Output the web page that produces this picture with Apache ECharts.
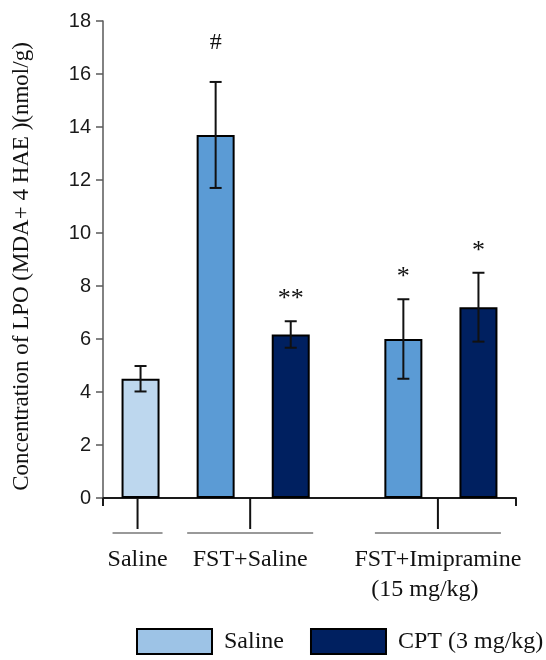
<!DOCTYPE html>
<html><head><meta charset="utf-8">
<script src="https://cdn.jsdelivr.net/npm/echarts@6/dist/echarts.min.js"></script>
<style>html,body{margin:0;padding:0;background:#fff}#c{width:546px;height:660px}</style>
</head><body><div id="c"></div>
<script>
// ---- data ----
const groups = ['Saline', 'FST+Saline', 'FST+Imipramine\n(15 mg/kg)'];
const seriesNames = ['Saline', 'CPT (3 mg/kg)'];
const salineMean = [4.5, 13.7, 6.0];
const salineErr = [0.48, 2.0, 1.5];
const salineSig = ['', '#', '*'];
const cptMean = [null, 6.17, 7.2];
const cptErr = [null, 0.5, 1.3];
const cptSig = ['', '**', '*'];
const yTicks = [0, 2, 4, 6, 8, 10, 12, 14, 16, 18];

// ---- layout (slot positions on a hidden value axis) ----
const groupStart = [0, 2, 7];
const salineSlot = 1, cptSlot = 3;
const serif = 'Liberation Serif';

const salineData = [], cptData = [], errData = [], groupData = [];
groups.forEach((g, i) => {
  const xs = groupStart[i] + salineSlot;
  salineData.push({ value: [xs, salineMean[i]], itemStyle: i === 0 ? { color: '#bdd7ee' } : undefined });
  errData.push([xs, salineMean[i], salineErr[i], salineSig[i]]);
  const present = [xs];
  if (cptMean[i] != null) {
    const xc = groupStart[i] + cptSlot;
    cptData.push([xc, cptMean[i]]);
    errData.push([xc, cptMean[i], cptErr[i], cptSig[i]]);
    present.push(xc);
  }
  const center = present.reduce((a, b) => a + b, 0) / present.length;
  groupData.push([center, 0, present.length, i]);
});

const chart = echarts.init(document.getElementById('c'), null, { renderer: 'canvas' });
chart.setOption({
  animation: false,
  backgroundColor: '#fff',
  grid: { left: 103, right: 30, top: 21, bottom: 162, containLabel: false },
  xAxis: {
    type: 'value', min: 0, max: 11, interval: 11,
    axisLine: { show: true, lineStyle: { color: '#1a1a1a', width: 2 } },
    axisTick: { show: true, length: 8, lineStyle: { color: '#1a1a1a', width: 2 } },
    axisLabel: { show: false }, splitLine: { show: false }
  },
  yAxis: {
    type: 'value', min: yTicks[0], max: yTicks[yTicks.length - 1], interval: yTicks[1] - yTicks[0],
    axisLine: { show: true, lineStyle: { color: '#595959', width: 1.5 } },
    axisTick: { show: true, length: 7, lineStyle: { color: '#595959', width: 1.5 } },
    axisLabel: { fontFamily: 'Liberation Sans', fontSize: 20, color: '#1a1a1a', margin: 12 },
    splitLine: { show: false },
    name: 'Concentration of LPO (MDA+ 4 HAE )(nmol/g)',
    nameLocation: 'middle', nameGap: 70,
    nameTextStyle: { fontFamily: serif, fontSize: 23, color: '#111', padding: [0, 14, 0, 0] }
  },
  legend: {
    left: 136, top: 628, padding: 0, itemWidth: 75, itemHeight: 25, itemGap: 26, icon: 'rect',
    selectedMode: false,
    data: [
      { name: seriesNames[0], itemStyle: { color: '#9dc3e6', borderColor: '#000', borderWidth: 2 } },
      { name: seriesNames[1], itemStyle: { color: '#002060', borderColor: '#000', borderWidth: 2 } }
    ],
    textStyle: { fontFamily: serif, fontSize: 24, color: '#111', padding: [6, 0, 0, 7] }
  },
  series: [
    {
      name: seriesNames[0], type: 'bar', barWidth: 38, barGap: '-100%',
      itemStyle: { color: '#5b9bd5', borderColor: '#000', borderWidth: 2 },
      data: salineData
    },
    {
      name: seriesNames[1], type: 'bar', barWidth: 38, barGap: '-100%',
      itemStyle: { color: '#002060', borderColor: '#000', borderWidth: 2 },
      data: cptData
    },
    {
      type: 'custom', name: 'err', z: 10, clip: false,
      data: errData,
      renderItem: function (params, api) {
        const x = api.value(0), m = api.value(1), e = api.value(2);
        const sig = errData[params.dataIndex][3];
        const top = api.coord([x, m + e]);
        const bot = api.coord([x, m - e]);
        const w = 6;
        const st = { stroke: '#111', lineWidth: 2 };
        const kids = [
          { type: 'line', shape: { x1: top[0], y1: top[1], x2: bot[0], y2: bot[1] }, style: st },
          { type: 'line', shape: { x1: top[0] - w, y1: top[1], x2: top[0] + w, y2: top[1] }, style: st },
          { type: 'line', shape: { x1: bot[0] - w, y1: bot[1], x2: bot[0] + w, y2: bot[1] }, style: st }
        ];
        if (sig) {
          const isHash = sig === '#';
          kids.push({
            type: 'text',
            style: {
              text: sig, x: top[0], y: top[1] - (isHash ? 39 : 22),
              align: 'center', verticalAlign: 'middle',
              font: (isHash ? '24px ' : '26px ') + serif, fill: '#111'
            }
          });
        }
        return { type: 'group', children: kids };
      }
    },
    {
      type: 'custom', name: 'groups', z: 10, clip: false,
      data: groupData,
      renderItem: function (params, api) {
        const c = api.coord([api.value(0), 0]);
        const n = api.value(2);
        const gi = api.value(3);
        const cx = c[0] - 3, y0 = c[1];
        const hw = n > 1 ? 63 : 25;
        const lines = groups[gi].split('\n');
        const kids = [
          { type: 'line', shape: { x1: cx, y1: y0, x2: cx, y2: y0 + 31 }, style: { stroke: '#111', lineWidth: 2 } },
          { type: 'line', shape: { x1: cx - hw, y1: y0 + 35, x2: cx + hw, y2: y0 + 35 }, style: { stroke: '#999', lineWidth: 2 } }
        ];
        lines.forEach((t, k) => {
          kids.push({
            type: 'text', style: {
              text: t, x: cx - k * 13, y: y0 + 62 + k * 30, align: 'center', verticalAlign: 'middle',
              font: '24px ' + serif, fill: '#111'
            }
          });
        });
        return { type: 'group', children: kids };
      }
    }
  ]
});
</script>
</body></html>
